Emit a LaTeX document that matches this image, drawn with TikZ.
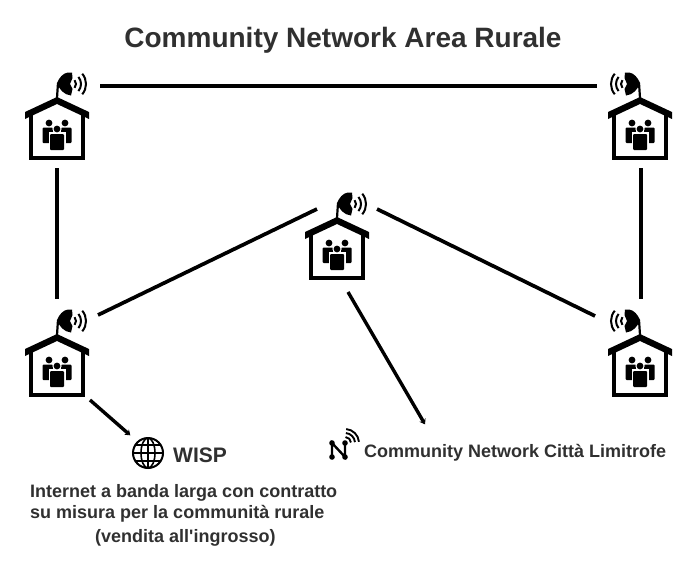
\documentclass[tikz,border=0pt]{standalone}
\usepackage{fontspec}
\setmainfont{Liberation Sans}
\usetikzlibrary{arrows.meta}
\definecolor{testo}{HTML}{303030}
\tikzstyle{casabox} = [rectangle, minimum width=64pt, minimum height=90pt, inner sep=0pt, outer xsep=11pt, outer ysep=8pt]
\tikzstyle{link} = [line width=3.7pt, draw=black]
\tikzstyle{linkto} = [line width=3.4pt, draw=black, -{Stealth[length=5pt,width=7pt]}]
\tikzstyle{onda} = [line width=2pt, draw=black]
\tikzstyle{scritta} = [font=\bfseries, text=testo, inner sep=0pt]
\tikzset{
	casa/.pic={
		\fill (0,0) -- (32,15) -- (32,22) -- (0,7) -- (-32,22) -- (-32,15) -- cycle;
		\draw[line width=4pt] (-26,17) -- (-26,60.5) -- (26,60.5) -- (26,17);
		\draw[line width=2.2pt] (0,1) -- (1,-14);
		\fill (11,-24.5) .. controls (6,-24) and (2,-19) .. (0,-14) .. controls (2,-8) and (7,-2) .. (14,-1.5) -- (15.5,-8) -- (13,-13) -- (15.5,-19) -- (15,-24.5) -- cycle;
		\foreach \r in {6,11,16} {
			\draw[onda] (13,-13) ++(-40:\r) arc[start angle=-40, end angle=40, radius=\r];
		}
		\foreach \s in {-1,1} {
			\fill (8*\s,26) circle (3.4);
			\fill[rounded corners=1pt] (4*\s,30.5) -- (14.5*\s,30.5) -- (14.5*\s,46) -- (4*\s,46) -- cycle;
		}
		\fill[white] (-8.5,35) rectangle (8.5,54);
		\fill[rounded corners=1pt] (-7,37) rectangle (7,53);
		\fill[white] (0,32) circle (4.6);
		\fill (0,32) circle (3.4);
	}
}
\newcommand{\casa}[4]{
	\node[casabox, yshift=-18pt] (#1) at (#2,#3) {};
	\pic[xscale=#4] at (#2,#3) {casa};
}
\begin{document}
\begin{tikzpicture}[x=1pt, y=-1pt]
	\useasboundingbox (0,0) rectangle (700,565);
	\node[scritta, font=\fontsize{28}{30}\selectfont\bfseries] (titolo) at (343,40) {Community Network Area Rurale};
	\casa{nw}{57}{97}{1}
	\casa{ne}{640}{97}{-1}
	\casa{cc}{337}{217}{1}
	\casa{sw}{57}{334}{1}
	\casa{se}{640}{334}{-1}
	\node[circle, draw=black, line width=2pt, minimum size=30pt, inner sep=0pt, outer sep=10pt] (globo) at (148,453) {};
	\draw[line width=1.6pt] (globo.center) ellipse (7 and 15);
	\draw[line width=1.6pt] (133,453) -- (163,453) (148,438) -- (148,468);
	\draw[line width=1.6pt] (135.3,445) -- (160.7,445) (135.3,461) -- (160.7,461);
	\node[scritta, anchor=west, font=\fontsize{21}{24}\selectfont\bfseries] (wisp) at (173,455) {WISP};
	\node[scritta, align=left, font=\fontsize{18}{21}\selectfont\bfseries, anchor=north west] (nota) at (30,484.5) {Internet a banda larga con contratto\\su misura per la communità rurale\\[3pt]\hspace*{65pt}(vendita all\textquotesingle ingrosso)};
	\draw[line width=2.4pt] (332,457) -- (332,443) -- (345,457) -- (345,443);
	\foreach \p in {(332,443),(332,457),(345,443),(345,457)} {
		\fill \p circle (2.8);
	}
	\foreach \r in {6,10,14} {
		\draw[line width=1.9pt] (345,443) ++(-85:\r) arc[start angle=-85, end angle=-5, radius=\r];
	}
	\node[scritta, anchor=west, font=\fontsize{18}{21}\selectfont\bfseries] (citta) at (364,453) {Community Network Città Limitrofe};
	\draw[link] ([yshift=29pt]nw.east) -- ([yshift=29pt]ne.west);
	\draw[link] (nw.south) -- (sw.north);
	\draw[link] ([xshift=1pt]ne.south) -- ([xshift=1pt]se.north);
	\draw[link] ([shift={(41,-37)}]sw.center) -- ([shift={(-20,-26)}]cc.center);
	\draw[link] ([shift={(40,-26)}]cc.center) -- ([shift={(-45,-36)}]se.center);
	\draw[linkto] ([shift={(11,57)}]cc.center) -- ([shift={(61,-20)}]citta.north west);
	\draw[linkto] ([shift={(33,48)}]sw.center) -- (globo.135);
\end{tikzpicture}
\end{document}
